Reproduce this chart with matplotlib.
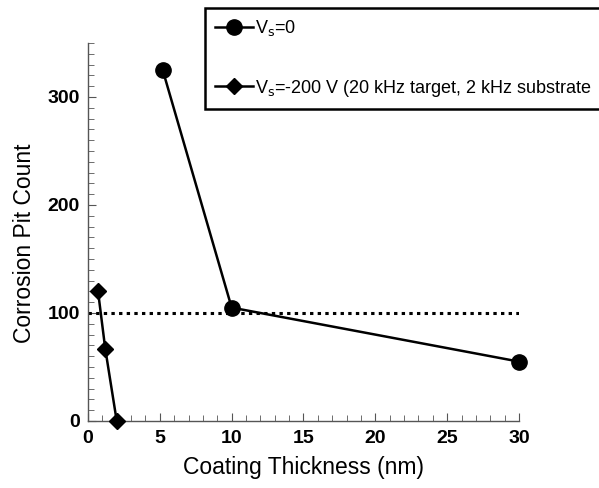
import matplotlib
matplotlib.use("Agg")
import matplotlib.pyplot as plt
from matplotlib.ticker import MultipleLocator

plt.rcParams['font.family'] = ['Liberation Sans', 'DejaVu Sans']

# data
thick_v0 = [5.2, 10.0, 30.0]
pits_v0 = [325, 105, 55]
thick_v200 = [0.7, 1.2, 2.0]
pits_v200 = [120, 67, 0]
ref_x = [0, 30]
ref_y = [100, 100]

fig = plt.figure(figsize=(5.99, 4.88), dpi=100)
ax = fig.add_axes([0.1469, 0.1373, 0.7195, 0.7746])

l1, = ax.plot(thick_v0, pits_v0, color='k', lw=1.8, marker='o', markersize=11,
              label=r'V$_{\rm s}$=0', clip_on=False, zorder=3)
l2, = ax.plot(thick_v200, pits_v200, color='k', lw=1.8, marker='D', markersize=8.5,
              label=r'V$_{\rm s}$=-200 V (20 kHz target, 2 kHz substrate',
              clip_on=False, zorder=3)
ax.plot(ref_x, ref_y, color='k', lw=2.2, linestyle=(0, (1.1, 1.4)))

ax.set_xlim(0, 30)
ax.set_ylim(0, 350)
ax.xaxis.set_major_locator(MultipleLocator(5))
ax.xaxis.set_minor_locator(MultipleLocator(1))
ax.yaxis.set_major_locator(MultipleLocator(100))
ax.yaxis.set_minor_locator(MultipleLocator(10))
ax.spines['top'].set_visible(False)
ax.spines['right'].set_visible(False)
for s in ['left', 'bottom']:
    ax.spines[s].set_color('#555555')
    ax.spines[s].set_linewidth(1.0)
ax.tick_params(which='both', direction='in', colors='#555555', labelcolor='k',
               labelsize=14)
ax.tick_params(axis='x', which='major', pad=6.5)
ax.tick_params(axis='y', which='major', pad=6)
ax.tick_params(which='major', length=6)
ax.tick_params(which='minor', length=4)
for t in ax.get_xticklabels() + ax.get_yticklabels():
    t.set_fontweight('bold')

ax.set_xlabel('Coating Thickness (nm)', fontsize=16.5, va='center')
ax.set_ylabel('Corrosion Pit Count', fontsize=16.5, va='center')
ax.xaxis.set_label_coords(0.5, -0.124)
ax.yaxis.set_label_coords(-0.148, 0.47)

leg = fig.legend(handles=[l1, l2], loc='upper left',
                 bbox_to_anchor=(0.342, 0.9836), fontsize=13,
                 labelspacing=2.2, handlelength=2.1, handletextpad=0.1,
                 borderpad=0.55, borderaxespad=0, fancybox=False,
                 framealpha=1, edgecolor='k')
leg.get_frame().set_linewidth(1.8)

fig.savefig('out.png', dpi=100)
